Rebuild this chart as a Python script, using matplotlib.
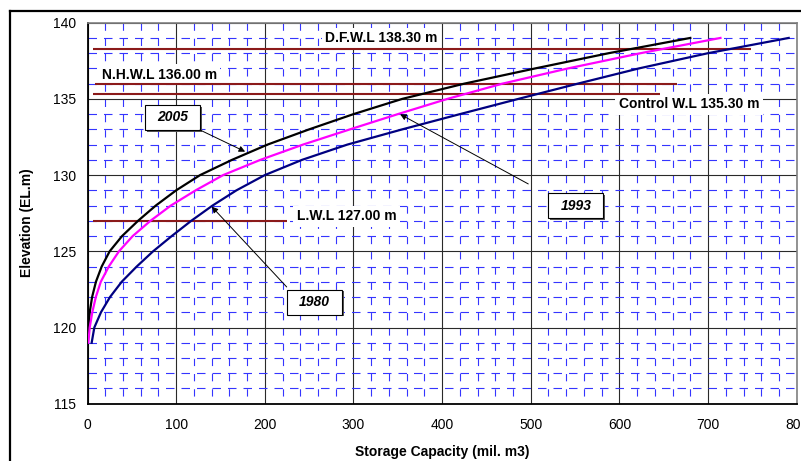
import matplotlib
matplotlib.use('Agg')
import matplotlib.pyplot as plt
from matplotlib.patches import Rectangle
from matplotlib.lines import Line2D

plt.rcParams['font.family'] = ['Liberation Sans', 'DejaVu Sans']
plt.rcParams['lines.scale_dashes'] = False

# ---------------- data ----------------
elevation = [119, 120, 121, 122, 123, 124, 125, 126, 127, 128, 129,
             130, 131, 132, 133, 134, 135, 136, 137, 138, 139]
capacity_2005 = [0.3, 1.0, 2.5, 5.2, 9.5, 16, 25, 39, 57, 77, 100,
                 127, 163, 203, 250, 300, 355, 425, 505, 588, 680]
capacity_1993 = [1.0, 2.5, 5.4, 9.4, 15, 24, 35.5, 51, 71, 94, 122,
                 153, 195, 243, 296, 350, 406, 468, 542, 624, 714]
capacity_1980 = [4.7, 7.7, 15.2, 25.4, 38.6, 55.5, 74, 95, 117, 141, 168,
                 200, 242, 293, 355, 420, 486, 553, 622, 700, 791]

level_names = ['D.F.W.L 138.30 m', 'N.H.W.L 136.00 m', 'Control W.L 135.30 m', 'L.W.L 127.00 m']
level_values = [138.3, 136.0, 135.3, 127.0]
level_x_start = [6, 8.5, 6, 6]
level_x_end = [748, 665, 646, 225]

year_labels = ['2005', '1993', '1980']

x_ticks = list(range(0, 801, 100))
y_ticks = list(range(115, 141, 5))

# ---------------- figure ----------------
W, H = 801, 461
fig = plt.figure(figsize=(W / 100, H / 100), dpi=100)
fig.patch.set_facecolor('white')

L, R, T, B = 87.5, 796.7, 22.7, 403.7
ax = fig.add_axes([L / W, 1 - B / H, (R - L) / W, (B - T) / H])
ax.set_xlim(0, 800)
ax.set_ylim(115, 140)

ax.set_xticks(x_ticks)
ax.set_yticks(y_ticks)
ax.set_xticks(range(0, 801, 20), minor=True)
ax.set_yticks(range(115, 141, 1), minor=True)
ax.tick_params(which='both', length=0, labelsize=10)
ax.tick_params(axis='x', pad=10.3)
ax.tick_params(axis='y', pad=8.3)

# grids
ax.grid(which='major', color='#2a2a2a', lw=0.8)
px = 0.72
cell_h = (B - T) / 25 * px
v_on = 7.3 * px
ax.xaxis.grid(True, which='minor', color='#3535ff', lw=0.8,
              linestyle=(v_on, (v_on, cell_h - v_on)))
ax.yaxis.grid(True, which='minor', color='#3535ff', lw=0.8,
              linestyle=(0, (8.5 * px, 7.0 * px)))
ax.set_axisbelow(True)

for s in ['left', 'bottom']:
    ax.spines[s].set_color('black')
    ax.spines[s].set_linewidth(1.3)
for s in ['top', 'right']:
    ax.spines[s].set_color('#808080')
    ax.spines[s].set_linewidth(1.2)

# reference levels
for xs, xe, v in zip(level_x_start, level_x_end, level_values):
    ax.plot([xs, xe], [v, v], color='#8b1a1a', lw=1.5, zorder=2,
            solid_capstyle='butt')

# level labels
label_pos = [(268, 138.71), (15.9, 136.31), (599.2, 134.38), (236, 127.05)]
for name, (lx, ly) in zip(level_names, label_pos):
    ax.text(lx, ly, name, fontsize=10, fontweight='bold', ha='left', va='baseline',
            bbox=dict(boxstyle='square,pad=0.25', fc='white', ec='none'), zorder=1.8)

# curves
ax.plot(capacity_2005, elevation, color='black', lw=1.6, zorder=3,
        solid_joinstyle='round')
ax.plot(capacity_1993, elevation, color='#ff00ff', lw=1.6, zorder=3.1,
        solid_joinstyle='round')
ax.plot(capacity_1980, elevation, color='#000080', lw=1.6, zorder=3.2,
        solid_joinstyle='round')

# year boxes with arrows
box_centers = [(95.9, 133.78), (550.8, 127.99), (256.1, 121.66)]
arrow_starts = [(126.9, 132.96), (497.2, 129.42), (224.7, 122.66)]
arrow_tips = [(177.8, 131.54), (352.7, 133.99), (140.2, 127.93)]
bw = 55 / 0.8865
bh = 25 / 15.24
sx, sy = 1.6 / 0.8865, 1.6 / 15.24
for lab, (cx, cy), st, tp in zip(year_labels, box_centers, arrow_starts, arrow_tips):
    ax.add_patch(Rectangle((cx - bw / 2 + sx, cy - bh / 2 - sy), bw, bh,
                           fc='#555555', ec='none', zorder=4))
    ax.add_patch(Rectangle((cx - bw / 2, cy - bh / 2), bw, bh,
                           fc='white', ec='black', lw=0.8, zorder=4.1))
    ax.text(cx, cy, lab, fontsize=10, fontweight='bold', fontstyle='italic',
            ha='center', va='center', zorder=4.2)
    ax.annotate('', xy=tp, xytext=st,
                arrowprops=dict(arrowstyle='-|>', color='black', lw=0.7,
                                mutation_scale=9, shrinkA=0, shrinkB=0),
                zorder=5)

# axis titles
fig.text(442 / W, 1 - 455.5 / H, 'Storage Capacity (mil. m3)', ha='center',
         va='baseline', fontsize=10, fontweight='bold')
fig.text(26.7 / W, 1 - 223 / H, 'Elevation (EL.m)', ha='center', va='center',
         rotation=90, fontsize=10, fontweight='bold')

# outer frame
fig.add_artist(Line2D([10 / W, 10 / W], [0, 1 - 11 / H], transform=fig.transFigure,
                      color='black', lw=1.6))
fig.add_artist(Line2D([10 / W, 1], [1 - 11 / H, 1 - 11 / H], transform=fig.transFigure,
                      color='black', lw=1.6))

fig.savefig('out.png', dpi=100)
